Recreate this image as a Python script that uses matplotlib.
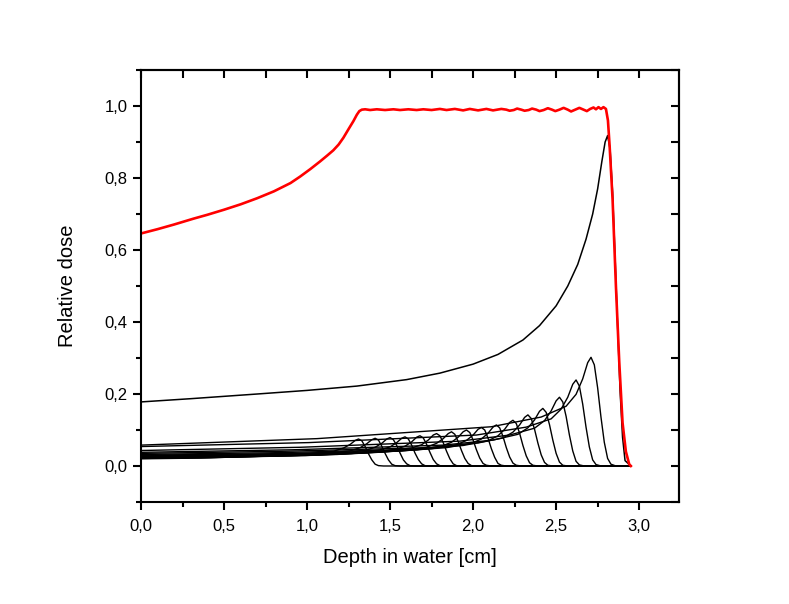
import matplotlib
matplotlib.use("Agg")
import matplotlib.pyplot as plt
from matplotlib.ticker import MultipleLocator, FuncFormatter

# spread-out Bragg peak (red)
sobp_depth = [0.0, 0.1, 0.2, 0.315, 0.4, 0.5, 0.6, 0.7, 0.8, 0.9, 0.958, 1.02, 1.078, 1.12, 1.158, 1.19,
              1.219, 1.25, 1.279, 1.30, 1.315, 1.33, 1.35,
              1.38, 1.42, 1.47, 1.52, 1.56, 1.61, 1.66, 1.70, 1.75, 1.80, 1.84, 1.89, 1.94, 1.98,
              2.03, 2.08, 2.12, 2.17, 2.20, 2.22, 2.245, 2.265, 2.29, 2.31, 2.335, 2.355, 2.38,
              2.40, 2.425, 2.45, 2.475, 2.495, 2.52, 2.545, 2.57, 2.59, 2.615, 2.64, 2.665, 2.685,
              2.705, 2.725, 2.74, 2.755, 2.77, 2.785, 2.80, 2.812, 2.822, 2.84, 2.86, 2.88, 2.90,
              2.92, 2.94, 2.95]
sobp_dose = [0.646, 0.658, 0.671, 0.687, 0.698, 0.712, 0.727, 0.744, 0.763, 0.786, 0.804, 0.825, 0.846,
             0.862, 0.877, 0.893, 0.912, 0.936, 0.958, 0.976, 0.986, 0.990, 0.991,
             0.989, 0.991, 0.989, 0.991, 0.989, 0.991, 0.989, 0.991, 0.989, 0.992, 0.989, 0.992,
             0.988, 0.992, 0.988, 0.992, 0.988, 0.992, 0.990, 0.987, 0.989, 0.993, 0.990, 0.987,
             0.989, 0.993, 0.990, 0.986, 0.989, 0.994, 0.990, 0.986, 0.990, 0.995, 0.990, 0.985,
             0.990, 0.995, 0.990, 0.986, 0.992, 0.996, 0.991, 0.997, 0.992, 0.997, 0.992, 0.960,
             0.890, 0.740, 0.500, 0.290, 0.120, 0.040, 0.005, 0.0]

# deepest pristine peak
main_peak_depth = [0.0, 0.3, 0.7, 1.0, 1.3, 1.6, 1.8, 2.0, 2.15, 2.3, 2.4, 2.5, 2.57, 2.63, 2.68, 2.72,
                   2.75, 2.775, 2.795, 2.81, 2.825, 2.84, 2.855, 2.87, 2.885, 2.90, 2.915, 2.95]
main_peak_dose = [0.178, 0.187, 0.200, 0.210, 0.222, 0.240, 0.258, 0.283, 0.310, 0.350, 0.390, 0.445,
                  0.500, 0.560, 0.630, 0.700, 0.770, 0.845, 0.900, 0.918, 0.880, 0.760, 0.580, 0.390,
                  0.210, 0.080, 0.015, 0.0]

# weighted pristine peaks (shallow to deep)
peak_depths = [
    [0, 0.36, 0.71, 1.01, 1.16, 1.22, 1.26, 1.29, 1.31, 1.33, 1.35, 1.37, 1.39, 1.41, 1.43, 1.46, 2.95],
    [0, 0.41, 0.81, 1.11, 1.26, 1.32, 1.36, 1.39, 1.41, 1.43, 1.45, 1.47, 1.49, 1.51, 1.53, 1.56, 2.95],
    [0, 0.45, 0.90, 1.20, 1.35, 1.41, 1.45, 1.48, 1.50, 1.52, 1.54, 1.56, 1.58, 1.60, 1.62, 1.65, 2.95],
    [0, 0.50, 0.99, 1.29, 1.44, 1.50, 1.54, 1.57, 1.59, 1.61, 1.63, 1.65, 1.67, 1.69, 1.71, 1.74, 2.95],
    [0, 0.54, 1.08, 1.38, 1.53, 1.59, 1.63, 1.66, 1.68, 1.70, 1.72, 1.74, 1.76, 1.78, 1.80, 1.83, 2.95],
    [0, 0.59, 1.18, 1.48, 1.63, 1.69, 1.73, 1.76, 1.78, 1.80, 1.82, 1.84, 1.86, 1.88, 1.90, 1.93, 2.95],
    [0, 0.64, 1.27, 1.57, 1.72, 1.78, 1.82, 1.85, 1.87, 1.89, 1.91, 1.93, 1.95, 1.97, 1.99, 2.02, 2.95],
    [0, 0.68, 1.36, 1.66, 1.81, 1.87, 1.91, 1.94, 1.96, 1.98, 2.00, 2.02, 2.04, 2.06, 2.08, 2.11, 2.95],
    [0, 0.73, 1.45, 1.75, 1.90, 1.96, 2.00, 2.03, 2.05, 2.07, 2.09, 2.11, 2.13, 2.15, 2.17, 2.20, 2.95],
    [0, 0.77, 1.54, 1.84, 1.99, 2.05, 2.09, 2.12, 2.14, 2.16, 2.18, 2.20, 2.22, 2.24, 2.26, 2.29, 2.95],
    [0, 0.82, 1.64, 1.94, 2.09, 2.15, 2.19, 2.22, 2.24, 2.26, 2.28, 2.30, 2.32, 2.34, 2.36, 2.39, 2.95],
    [0, 0.87, 1.73, 2.03, 2.18, 2.24, 2.28, 2.31, 2.33, 2.35, 2.37, 2.39, 2.41, 2.43, 2.45, 2.48, 2.95],
    [0, 0.91, 1.82, 2.12, 2.27, 2.33, 2.37, 2.40, 2.42, 2.44, 2.46, 2.48, 2.50, 2.52, 2.54, 2.57, 2.95],
    [0, 0.96, 1.92, 2.22, 2.37, 2.43, 2.47, 2.50, 2.52, 2.54, 2.56, 2.58, 2.60, 2.62, 2.64, 2.67, 2.95],
    [0, 1.01, 2.02, 2.32, 2.47, 2.53, 2.57, 2.60, 2.62, 2.64, 2.66, 2.68, 2.70, 2.72, 2.74, 2.77, 2.95],
    [0, 1.06, 2.11, 2.41, 2.56, 2.62, 2.66, 2.69, 2.71, 2.73, 2.75, 2.77, 2.79, 2.81, 2.83, 2.86, 2.95],
]
peak_doses = [
    [0.020, 0.022, 0.027, 0.034, 0.041, 0.050, 0.060, 0.071, 0.075, 0.070, 0.054, 0.034, 0.017, 0.005, 0.001, 0, 0],
    [0.021, 0.023, 0.028, 0.035, 0.042, 0.051, 0.062, 0.073, 0.077, 0.072, 0.055, 0.035, 0.017, 0.005, 0.001, 0, 0],
    [0.022, 0.024, 0.028, 0.036, 0.043, 0.052, 0.063, 0.075, 0.079, 0.073, 0.057, 0.036, 0.017, 0.006, 0.001, 0, 0],
    [0.023, 0.025, 0.029, 0.036, 0.045, 0.053, 0.065, 0.077, 0.081, 0.075, 0.058, 0.036, 0.018, 0.006, 0.001, 0, 0],
    [0.024, 0.026, 0.030, 0.038, 0.046, 0.055, 0.067, 0.080, 0.084, 0.078, 0.060, 0.038, 0.018, 0.006, 0.001, 0, 0],
    [0.025, 0.028, 0.032, 0.041, 0.050, 0.059, 0.072, 0.086, 0.090, 0.084, 0.065, 0.041, 0.020, 0.006, 0.001, 0, 0],
    [0.026, 0.029, 0.034, 0.043, 0.052, 0.063, 0.076, 0.090, 0.095, 0.088, 0.068, 0.043, 0.021, 0.007, 0.001, 0, 0],
    [0.027, 0.030, 0.036, 0.045, 0.055, 0.066, 0.080, 0.095, 0.100, 0.093, 0.072, 0.045, 0.022, 0.007, 0.002, 0, 0],
    [0.028, 0.032, 0.039, 0.048, 0.059, 0.071, 0.086, 0.102, 0.107, 0.100, 0.077, 0.048, 0.024, 0.007, 0.002, 0, 0],
    [0.030, 0.034, 0.041, 0.051, 0.063, 0.075, 0.091, 0.108, 0.114, 0.106, 0.082, 0.051, 0.025, 0.008, 0.002, 0, 0],
    [0.032, 0.037, 0.046, 0.057, 0.070, 0.084, 0.102, 0.121, 0.127, 0.118, 0.091, 0.057, 0.028, 0.009, 0.002, 0, 0],
    [0.035, 0.041, 0.051, 0.064, 0.078, 0.094, 0.114, 0.135, 0.142, 0.132, 0.102, 0.064, 0.031, 0.010, 0.002, 0, 0],
    [0.038, 0.045, 0.058, 0.072, 0.088, 0.106, 0.128, 0.152, 0.160, 0.149, 0.115, 0.072, 0.035, 0.011, 0.002, 0, 0],
    [0.043, 0.052, 0.069, 0.086, 0.105, 0.126, 0.153, 0.181, 0.191, 0.178, 0.138, 0.086, 0.042, 0.013, 0.003, 0, 0],
    [0.054, 0.065, 0.086, 0.108, 0.131, 0.158, 0.191, 0.227, 0.239, 0.222, 0.172, 0.108, 0.053, 0.017, 0.004, 0, 0],
    [0.058, 0.076, 0.109, 0.136, 0.166, 0.199, 0.242, 0.287, 0.302, 0.281, 0.217, 0.136, 0.066, 0.021, 0.005, 0, 0],
]

plt.rcParams["font.family"] = ["Liberation Sans", "DejaVu Sans"]

fig = plt.figure(figsize=(7.89, 6.04), dpi=100)
ax = fig.add_axes([0.1787, 0.1689, 0.6819, 0.7151])

for xs, ys in zip(peak_depths, peak_doses):
    ax.plot(xs, ys, color="black", lw=1.0)
ax.plot(main_peak_depth, main_peak_dose, color="black", lw=1.1)
ax.plot(sobp_depth, sobp_dose, color="red", lw=1.9)

ax.set_xlim(0, 3.24)
ax.set_ylim(-0.1, 1.1)

comma = FuncFormatter(lambda v, pos: f"{v:.1f}".replace(".", ","))
ax.xaxis.set_major_locator(MultipleLocator(0.5))
ax.xaxis.set_minor_locator(MultipleLocator(0.25))
ax.yaxis.set_major_locator(MultipleLocator(0.2))
ax.yaxis.set_minor_locator(MultipleLocator(0.1))
ax.xaxis.set_major_formatter(comma)
ax.yaxis.set_major_formatter(comma)

for s in ax.spines.values():
    s.set_linewidth(1.5)
ax.tick_params(which="major", direction="out", length=6, width=1.5, labelsize=12)
ax.tick_params(which="minor", direction="out", length=3.5, width=1.5)
ax.tick_params(axis="x", pad=6)

# mirrored ticks pointing inward on top and right
top = ax.secondary_xaxis("top")
top.xaxis.set_major_locator(MultipleLocator(0.5))
top.xaxis.set_minor_locator(MultipleLocator(0.25))
top.tick_params(which="both", direction="in", length=6, width=1.5, labeltop=False)
top.spines["top"].set_linewidth(1.5)
right = ax.secondary_yaxis("right")
right.yaxis.set_major_locator(MultipleLocator(0.2))
right.yaxis.set_minor_locator(MultipleLocator(0.1))
right.tick_params(which="both", direction="in", length=6, width=1.5, labelright=False)
right.spines["right"].set_linewidth(1.5)

ax.set_xlabel("Depth in water [cm]", fontsize=14.5, labelpad=10)
ax.set_ylabel("Relative dose", fontsize=14.5, labelpad=20)

fig.savefig("out.png", dpi=100)
